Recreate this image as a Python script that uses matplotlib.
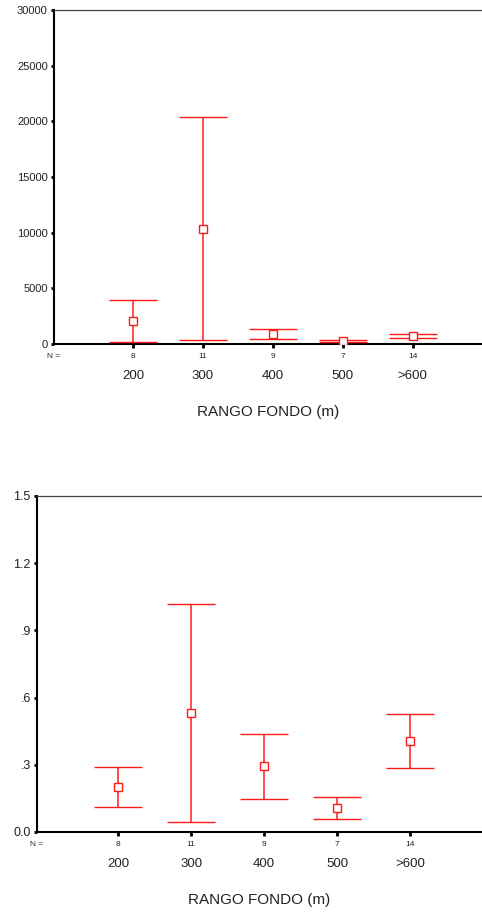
import matplotlib
matplotlib.use("Agg")
from matplotlib import pyplot as plt
from matplotlib.transforms import blended_transform_factory

plt.rcParams["font.family"] = ["Liberation Sans", "DejaVu Sans"]

categories = ["200", "300", "400", "500", ">600"]
n_counts = [8, 11, 9, 7, 14]

# top panel
top_mean = [2040, 10360, 900, 260, 680]
top_low = [150, 360, 450, 140, 500]
top_high = [3950, 20420, 1320, 380, 940]
top_ticks = [0, 5000, 10000, 15000, 20000, 25000, 30000]
top_ticklabels = ["0", "5000", "10000", "15000", "20000", "25000", "30000"]

# bottom panel
bot_mean = [0.203, 0.531, 0.296, 0.107, 0.406]
bot_low = [0.113, 0.045, 0.149, 0.060, 0.286]
bot_high = [0.292, 1.016, 0.436, 0.155, 0.525]
bot_ticks = [0.0, 0.3, 0.6, 0.9, 1.2, 1.5]
bot_ticklabels = ["0.0", ".3", ".6", ".9", "1.2", "1.5"]

xlabel = "RANGO FONDO (m)"
RED = "#ff1a1a"

fig = plt.figure(figsize=(4.82, 9.16), dpi=100)


def panel(rect, mean, low, high, ticks, ticklabels, xlim, ylim, tick_fs):
    ax = fig.add_axes(rect)
    x = list(range(1, len(categories) + 1))
    yerr = [[m - l for m, l in zip(mean, low)], [h - m for m, h in zip(mean, high)]]
    ax.errorbar(x, mean, yerr=yerr, fmt="s", color=RED, ecolor=RED, elinewidth=1.1,
                capsize=17, capthick=1.1, ms=5.5, mfc="white", mec=RED, mew=1.0, zorder=3)
    ax.set_xlim(*xlim)
    ax.set_ylim(*ylim)
    ax.set_yticks(ticks)
    ax.set_yticklabels(ticklabels, fontsize=tick_fs, color="#222222")
    ax.set_xticks(x)
    ax.set_xticklabels(categories, fontsize=9.5, color="#222222")
    ax.tick_params(axis="x", direction="out", length=3, width=2, pad=16)
    ax.tick_params(axis="y", direction="out", length=2.5, width=2, pad=2)
    for s in ["left", "bottom"]:
        ax.spines[s].set_linewidth(1.5)
        ax.spines[s].set_color("black")
    ax.spines["top"].set_linewidth(0.9)
    ax.spines["top"].set_color("#444444")
    ax.spines["right"].set_visible(False)
    tr = blended_transform_factory(ax.transData, ax.transAxes)
    for xi, n in zip(x, n_counts):
        ax.text(xi, -0.037, str(n), transform=tr, ha="center", va="center",
                fontsize=6, color="#222222")
    ax.text(0.0, -0.037, "N =", transform=ax.transAxes, ha="center", va="center",
            fontsize=6, color="#222222")
    ax.set_xlabel(xlabel, fontsize=11, color="#222222", labelpad=16)
    return ax


panel([54 / 482, 1 - 344 / 916, 428 / 482, 334 / 916], top_mean, top_low, top_high,
      top_ticks, top_ticklabels, (-0.13, 5.99), (0, 30000), 8)
panel([37 / 482, 1 - 832 / 916, 445 / 482, 336 / 916], bot_mean, bot_low, bot_high,
      bot_ticks, bot_ticklabels, (-0.11, 5.98), (0, 1.5), 9)

fig.savefig("out.png", dpi=100)
